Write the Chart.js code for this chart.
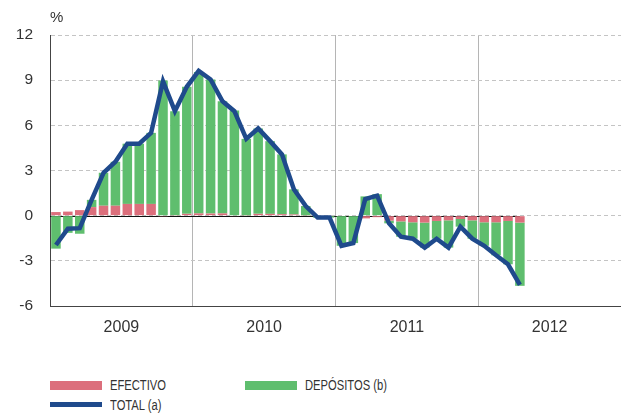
<!DOCTYPE html>
<html>
<head>
<meta charset="utf-8">
<script src="https://cdn.jsdelivr.net/npm/chart.js@4.4.0/dist/chart.umd.min.js"></script>
<style>
  body { margin: 0; background: #fff; }
  #wrap { position: relative; width: 621px; height: 418px; }
  #box { position: absolute; left: 0; top: 0; width: 621px; height: 350px; }
  .leg { position: absolute; font-family: "Liberation Sans Narrow", "Arial Narrow", "Liberation Sans", sans-serif;
         font-size: 14px; color: #333; height: 16px; line-height: 16px; white-space: nowrap; }
  .leg i { position: absolute; left: 0; width: 52px; }
  .leg span { position: absolute; left: 60px; top: 0; transform: scaleX(0.8); transform-origin: 0 50%; }
</style>
</head>
<body>
<div id="wrap">
  <div id="box"><canvas id="chart"></canvas></div>
  <div class="leg" style="left:50px; top:377px;"><i style="top:4px;height:9px;background:#dc6f7c"></i><span>EFECTIVO</span></div>
  <div class="leg" style="left:245px; top:377px;"><i style="top:4px;height:9px;background:#5fbe6e"></i><span>DEPÓSITOS (b)</span></div>
  <div class="leg" style="left:50px; top:397px;"><i style="top:5px;height:5px;background:#1f4a8c"></i><span>TOTAL (a)</span></div>
</div>
<script>
// years on the axis, monthly points from Jan 2009 to Apr 2012
const years = ['2009', '2010', '2011', '2012'];
const monthLabels = [];
years.forEach(y => { for (let m = 1; m <= 12; m++) monthLabels.push(y + '-' + m); });

const efectivo = [
  0.24, 0.27, 0.37, 0.57, 0.66, 0.66, 0.78, 0.78, 0.78, -0.05, 0.02, 0.12,
  0.15, 0.14, 0.15, -0.04, 0.02, 0.12, 0.12, 0.10, 0.08, 0.02, 0.0, 0.0,
  0.0, 0.0, -0.18, -0.10, -0.33, -0.38, -0.44, -0.46, -0.35, -0.31, -0.22, -0.31,
  -0.44, -0.44, -0.35, -0.46
];
const depositos = [
  -2.19, -1.14, -1.20, 0.48, 2.19, 2.92, 4.00, 4.00, 4.72, 8.98, 6.92, 8.44,
  9.40, 8.91, 7.45, 6.98, 5.08, 5.67, 4.83, 3.97, 1.67, 0.62, -0.13, -0.13,
  -2.00, -1.82, 1.28, 1.43, -0.18, -1.02, -1.09, -1.66, -1.18, -1.81, -0.51, -1.22,
  -1.56, -2.19, -2.88, -4.20
];
const total = [
  -1.95, -0.87, -0.83, 1.05, 2.85, 3.58, 4.78, 4.78, 5.50, 8.93, 6.94, 8.56,
  9.62, 9.05, 7.60, 6.94, 5.10, 5.79, 4.95, 4.07, 1.75, 0.64, -0.13, -0.13,
  -2.00, -1.82, 1.10, 1.33, -0.51, -1.40, -1.53, -2.12, -1.53, -2.12, -0.73, -1.53,
  -2.00, -2.63, -3.23, -4.60
];
const yTicks = [-6, -3, 0, 3, 6, 9, 12];

const txt = '#333';
const baseFont = '"Liberation Sans", Arial, sans-serif';

// black zero line only under the data, plus the "%" label
const extras = {
  id: 'extras',
  beforeDatasetsDraw(chart) {
    const { ctx, chartArea, scales } = chart;
    const y0 = Math.round(scales.y.getPixelForValue(0)) + 0.5;
    const xEnd = scales.x.getPixelForValue(total.length - 1);
    ctx.save();
    ctx.strokeStyle = '#111';
    ctx.lineWidth = 1.2;
    ctx.beginPath();
    ctx.moveTo(chartArea.left, y0);
    ctx.lineTo(xEnd, y0);
    ctx.stroke();
    ctx.restore();
  },
  afterDraw(chart) {
    const { ctx, chartArea } = chart;
    ctx.save();
    ctx.fillStyle = txt;
    ctx.font = '15px ' + baseFont;
    ctx.textAlign = 'left';
    ctx.textBaseline = 'middle';
    ctx.fillText('%', chartArea.left, 18);
    ctx.restore();
  }
};

new Chart(document.getElementById('chart'), {
  type: 'bar',
  data: {
    labels: monthLabels,
    datasets: [
      { label: 'TOTAL (a)', type: 'line', data: total, stack: 'tot', order: 0,
        borderColor: '#1f4a8c', borderWidth: 4.5, pointRadius: 0, tension: 0,
        borderJoinStyle: 'miter', fill: false, xAxisID: 'x', yAxisID: 'y' },
      { label: 'EFECTIVO', data: efectivo, stack: 'bars', order: 1,
        backgroundColor: '#dc6f7c', barPercentage: 0.8, categoryPercentage: 1 },
      { label: 'DEPÓSITOS (b)', data: depositos, stack: 'bars', order: 1,
        backgroundColor: '#5fbe6e', barPercentage: 0.8, categoryPercentage: 1 }
    ]
  },
  options: {
    responsive: true,
    maintainAspectRatio: false,
    animation: false,
    layout: { padding: { top: 35, right: 0, left: 0, bottom: 0 } },
    plugins: { legend: { display: false }, tooltip: { enabled: false } },
    scales: {
      x: { display: false, stacked: true, offset: true },
      x2: {
        type: 'linear', position: 'bottom', min: 0, max: 48, offset: false,
        afterFit: s => { s.height = 44; s.paddingLeft = 0; s.paddingRight = 0; },
        ticks: {
          stepSize: 6, autoSkip: false, maxRotation: 0, padding: 12,
          color: txt, font: { family: baseFont, size: 16 },
          callback: v => (v % 12 === 6 ? years[(v - 6) / 12] : '')
        },
        grid: {
          drawTicks: false, offset: false,
          color: c => (c.tick && c.tick.value % 12 === 0 && c.tick.value > 0 && c.tick.value < 48) ? '#b5b5b5' : 'rgba(0,0,0,0)'
        },
        border: { color: '#444', width: 1 }
      },
      y: {
        stacked: true, min: -6, max: 12,
        afterFit: s => { s.width = 50; },
        afterBuildTicks: s => { s.ticks = yTicks.map(v => ({ value: v })); },
        ticks: { padding: 17, color: txt, font: { family: baseFont, size: 15.5 } },
        grid: {
          drawTicks: false,
          color: c => (c.tick && c.tick.value === -6) ? 'rgba(0,0,0,0)' : '#c4c4c4'
        },
        border: { color: '#444', width: 1, dash: [4, 3] }
      }
    }
  },
  plugins: [extras]
});
</script>
</body>
</html>
